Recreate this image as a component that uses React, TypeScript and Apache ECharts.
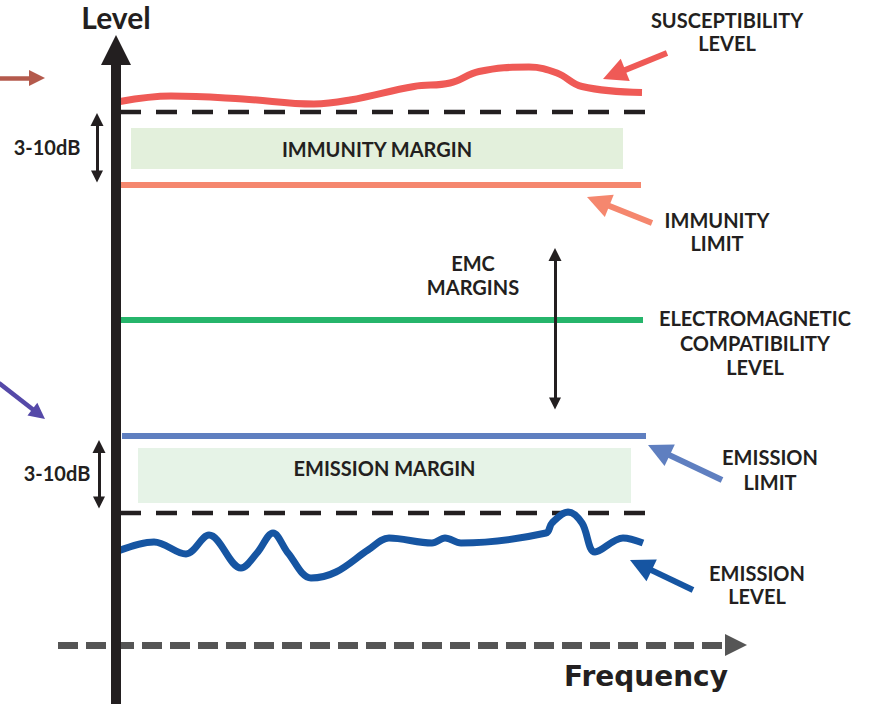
import React, { useEffect, useRef } from "react";
import * as echarts from "echarts";

// Units: frequency (x) and level (y), arbitrary diagram units
const susceptibilityLevel: [number, number][] = [
  [0.8, 108.7], [11, 109.8], [25.4, 109.2], [39.6, 108.2], [46.8, 109],
  [59.6, 111.7], [66.8, 112.4], [72.6, 114.7], [82.6, 115.6], [88.2, 114.4],
  [93.2, 111.7], [105.2, 110.5],
];
const emissionLevel: [number, number][] = [
  [0.4, 18.8], [7.6, 20.6], [14, 18.2], [18.6, 22], [25, 15.4], [28.2, 18.4],
  [31.4, 22.4], [34.4, 18.4], [39, 13.4], [44, 14.6], [50.4, 19], [54.6, 21.4],
  [63.2, 20.4], [65.8, 21.4], [69, 20.4], [86, 22.4], [87.2, 24.4], [90.4, 26.6],
  [93.2, 24.4], [95.8, 18.6], [101.4, 21.4], [105.4, 20.4],
];
const upperDashed: [number, number][] = [[0.8, 106.6], [105.8, 106.6]];
const immunityLimit: [number, number][] = [[0, 92], [105, 92]];
const emcLevel: [number, number][] = [[0.8, 65], [105.4, 65]];
const emissionLimit: [number, number][] = [[1.2, 41.8], [106, 41.8]];
const lowerDashed: [number, number][] = [[0.8, 26.4], [105.8, 26.4]];

const immunityMarginBox: [number, number][] = [[3, 103.4], [101.4, 95.2]];
const emissionMarginBox: [number, number][] = [[4.4, 39.4], [103, 28.4]];

const levelAxis: [number, number][] = [[0, -11.8], [0, 122]];
const frequencyAxis: [number, number][] = [[-11.6, 0], [126.2, 0]];

const doubleArrows: [number, number][][] = [
  [[-3.8, 92.4], [-3.8, 106.4]],
  [[-3.4, 27.2], [-3.4, 41]],
  [[87.8, 47], [87.8, 79.4]],
];

const calloutArrows: { from: [number, number]; to: [number, number]; color: string }[] = [
  { from: [110.2, 118.4], to: [97.4, 113.2], color: "#ef5a56" },
  { from: [107.2, 84.4], to: [94.2, 89.6], color: "#f5876e" },
  { from: [121.2, 33], to: [106.4, 40], color: "#5f7fc0" },
  { from: [115.4, 11], to: [102.8, 17], color: "#1655a2" },
];
const sideArrows: { from: [number, number]; to: [number, number]; color: string }[] = [
  { from: [-23.4, 113.4], to: [-14.2, 113.4], color: "#b45a4c" },
  { from: [-23.4, 52.4], to: [-14.2, 45.2], color: "#5549a8" },
];

const FONT = "Lato";
const INK = "#231f20";
const PX_PER_UNIT = 5; // grid is 870px over 174 units and 704px over 140.8 units

// The triangle symbol is centred on the line end; pull the end back by half the
// head length so that the head's tip lands on the given point.
function pullBack(a: [number, number], b: [number, number], headPx: number): [number, number] {
  const dx = b[0] - a[0];
  const dy = b[1] - a[1];
  const len = Math.hypot(dx, dy) || 1;
  const d = headPx / 2 / PX_PER_UNIT;
  return [b[0] - (dx / len) * d, b[1] - (dy / len) * d];
}

export default function App() {
  const ref = useRef<HTMLDivElement>(null);
  useEffect(() => {
    if (!ref.current) return;
    const chart = echarts.init(ref.current, undefined, { renderer: "svg" });
    const lbl = (text: string, x: number, y: number, size: number, lh?: number, family?: string) => ({
      type: "text",
      x,
      y,
      z: 100,
      style: {
        text,
        fill: INK,
        fontFamily: family || FONT,
        fontWeight: "bold",
        fontSize: size,
        lineHeight: lh || size * 1.2,
        align: "center",
        verticalAlign: "middle",
      },
    });
    const AXIS_HEAD: [number, number] = [33, 30];
    const FREQ_HEAD: [number, number] = [20, 22];
    const DBL_HEAD: [number, number] = [12, 13];
    const CALL_HEAD: [number, number] = [22, 24];
    const SIDE_HEAD: [number, number] = [16, 16];
    chart.setOption({
      animation: false,
      grid: { left: 0, top: 0, width: 870, height: 704 },
      xAxis: { type: "value", min: -23.2, max: 150.8, show: false },
      yAxis: { type: "value", min: -11.8, max: 129, show: false },
      series: [
        {
          type: "line",
          data: upperDashed,
          symbol: "none",
          clip: false,
          lineStyle: { color: INK, width: 4.5, type: [21, 15] },
          z: 3,
          markArea: {
            silent: true,
            itemStyle: { color: "#e3f0dc" },
            label: {
              show: true,
              position: "inside",
              color: INK,
              fontFamily: FONT,
              fontWeight: "bold",
              fontSize: 20,
            },
            data: [
              [
                { coord: immunityMarginBox[0], name: "IMMUNITY MARGIN" },
                { coord: immunityMarginBox[1] },
              ],
            ],
          },
        },
        {
          type: "line",
          data: lowerDashed,
          symbol: "none",
          clip: false,
          lineStyle: { color: INK, width: 4.5, type: [21, 15] },
          z: 3,
          markArea: {
            silent: true,
            itemStyle: { color: "#e6f3e7" },
            label: {
              show: true,
              position: "inside",
              offset: [0, -8],
              color: INK,
              fontFamily: FONT,
              fontWeight: "bold",
              fontSize: 20,
            },
            data: [
              [
                { coord: emissionMarginBox[0], name: "EMISSION MARGIN" },
                { coord: emissionMarginBox[1] },
              ],
            ],
          },
        },
        {
          type: "line",
          data: susceptibilityLevel,
          smooth: 0.4,
          symbol: "none",
          clip: false,
          lineStyle: { color: "#ef5a56", width: 7 },
          z: 4,
        },
        {
          type: "line",
          data: immunityLimit,
          symbol: "none",
          clip: false,
          lineStyle: { color: "#f5876e", width: 6, cap: "butt" },
          z: 4,
        },
        {
          type: "line",
          data: emcLevel,
          symbol: "none",
          clip: false,
          lineStyle: { color: "#26b56b", width: 6, cap: "butt" },
          z: 4,
        },
        {
          type: "line",
          data: emissionLimit,
          symbol: "none",
          clip: false,
          lineStyle: { color: "#5f7fc0", width: 6, cap: "butt" },
          z: 4,
        },
        {
          type: "line",
          data: emissionLevel,
          smooth: 0.35,
          symbol: "none",
          clip: false,
          lineStyle: { color: "#1655a2", width: 7 },
          z: 4,
        },
        {
          type: "lines",
          coordinateSystem: "cartesian2d",
          symbol: ["none", "triangle"],
          symbolSize: AXIS_HEAD,
          z: 10,
          lineStyle: { color: INK, width: 10, opacity: 1 },
          data: [{ coords: [levelAxis[0], pullBack(levelAxis[0], levelAxis[1], AXIS_HEAD[1])] }],
        },
        {
          type: "lines",
          coordinateSystem: "cartesian2d",
          symbol: ["none", "triangle"],
          symbolSize: FREQ_HEAD,
          z: 9,
          lineStyle: { color: "#555555", width: 7, type: [20, 8], opacity: 1 },
          data: [
            { coords: [frequencyAxis[0], pullBack(frequencyAxis[0], frequencyAxis[1], FREQ_HEAD[1])] },
          ],
        },
        {
          type: "lines",
          coordinateSystem: "cartesian2d",
          symbol: ["triangle", "triangle"],
          symbolSize: DBL_HEAD,
          z: 9,
          lineStyle: { color: INK, width: 3, opacity: 1 },
          data: doubleArrows.map((c) => ({
            coords: [pullBack(c[1], c[0], DBL_HEAD[1]), pullBack(c[0], c[1], DBL_HEAD[1])],
          })),
        },
        {
          type: "lines",
          coordinateSystem: "cartesian2d",
          symbol: ["none", "triangle"],
          symbolSize: CALL_HEAD,
          z: 9,
          lineStyle: { width: 6, opacity: 1 },
          data: calloutArrows.map((a) => ({
            coords: [a.from, pullBack(a.from, a.to, CALL_HEAD[1])],
            lineStyle: { color: a.color, width: 6, opacity: 1 },
          })),
        },
        {
          type: "lines",
          coordinateSystem: "cartesian2d",
          symbol: ["none", "triangle"],
          symbolSize: SIDE_HEAD,
          z: 9,
          lineStyle: { width: 4.5, opacity: 1 },
          data: sideArrows.map((a) => ({
            coords: [a.from, pullBack(a.from, a.to, SIDE_HEAD[1])],
            lineStyle: { color: a.color, width: 4.5, opacity: 1 },
          })),
        },
      ],
      graphic: [
        lbl("Level", 116, 17, 30, 30),
        lbl("Frequency", 646, 676, 28, 34, "DejaVu Sans"),
        lbl("SUSCEPTIBILITY\nLEVEL", 727, 31.5, 20, 23),
        lbl("IMMUNITY\nLIMIT", 717, 231.5, 20, 23),
        lbl("EMC\nMARGINS", 473, 275, 20, 24),
        lbl("ELECTROMAGNETIC\nCOMPATIBILITY\nLEVEL", 755, 342.5, 20, 24.5),
        lbl("EMISSION\nLIMIT", 770, 469.5, 20, 25),
        lbl("EMISSION\nLEVEL", 757, 584.5, 20, 23),
        lbl("3-10dB", 47, 147, 20),
        lbl("3-10dB", 57, 473, 20),
      ],
    });
    return () => chart.dispose();
  }, []);
  return <div ref={ref} style={{ width: 870, height: 704, position: "absolute", left: 0, top: 0 }} />;
}
